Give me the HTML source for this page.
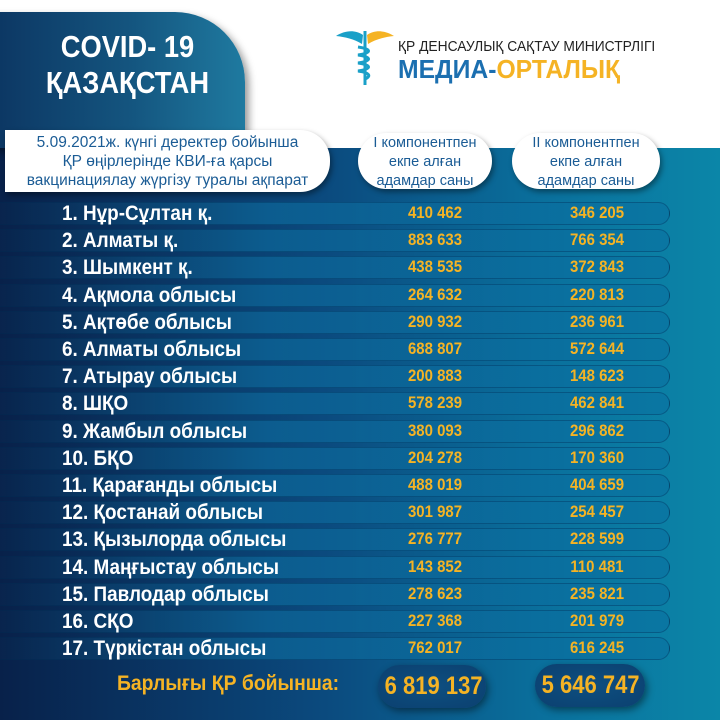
<!DOCTYPE html>
<html><head><meta charset="utf-8"><style>
*{margin:0;padding:0;box-sizing:border-box}
body{width:720px;height:720px;overflow:hidden;position:relative;font-family:"Liberation Sans","DejaVu Sans",sans-serif;background:linear-gradient(90deg,#08214a 0%,#0b4a7e 45%,#0a6f9c 75%,#0b86a8 100%)}
.top{position:absolute;left:0;top:0;width:720px;height:148px;background:#fff}
.tab{position:absolute;left:-40px;top:12px;width:285px;height:136px;border-radius:0 70px 0 0;background:linear-gradient(90deg,#0a2f5c,#14557f 60%,#1f7aa0);box-shadow:4px 4px 8px rgba(0,0,0,.4)}
.tabt{position:absolute;left:0;width:255px;text-align:center;color:#fff;font-weight:bold;font-size:31px;transform:scaleX(.88)}
.logo{position:absolute;left:300px;top:5px;width:382px;height:95px;background:#fff}
.pill{position:absolute;background:#fff;border-radius:28px;color:#1b5c95;text-align:center;font-size:14.5px;line-height:19px;box-shadow:2px 3px 6px rgba(0,0,0,.4)}
.bar{position:absolute;left:0;width:670px;height:23px;border-radius:0 12px 12px 0;background:linear-gradient(90deg,rgba(10,40,80,.5),rgba(14,110,160,.6) 40%,rgba(10,110,160,.5));border:1px solid rgba(0,40,80,.35);border-left:none}
.nm{position:absolute;left:62px;color:#fff;font-weight:bold;font-size:21px;transform-origin:left;transform:scaleX(.9);white-space:nowrap}
.v{position:absolute;width:100px;text-align:center;color:#f5b324;font-weight:bold;font-size:17px;transform:scaleX(.88);white-space:nowrap}
.tp{position:absolute;height:43px;border-radius:22px;background:radial-gradient(ellipse at center,#0e4f80,#0b4070);box-shadow:2px 3px 8px rgba(0,0,0,.45);color:#f5b324;font-weight:bold;font-size:25px;text-align:center;line-height:43px;white-space:nowrap}
.tp span{display:inline-block;transform:scaleX(.88)}
</style></head><body>
<div class="top"></div>
<div class="tab"></div>
<div class="tabt" style="top:29px">COVID- 19</div>
<div class="tabt" style="top:65px">ҚАЗАҚСТАН</div>
<div class="logo">
<svg style="position:absolute;left:36px;top:22px" width="58" height="60" viewBox="0 0 58 60">
<path d="M27 8 C18 2 8 4 0 9 C9 10 18 12 26 17Z" fill="#1aa0c8"/>
<path d="M31 8 C40 2 50 4 58 9 C49 10 40 12 32 17Z" fill="#f5b324"/>
<rect x="27.5" y="4" width="3" height="54" fill="#1aa0c8"/>
<path d="M22 20 C36 22 36 26 22 28 C36 30 36 34 22 36 C36 38 36 42 22 44 C36 46 34 50 29 52" stroke="#1aa0c8" stroke-width="3" fill="none"/>
</svg>
<div style="position:absolute;left:98px;top:33px;font-size:15px;color:#222;white-space:nowrap;transform:scaleX(.92);transform-origin:left">ҚР ДЕНСАУЛЫҚ САҚТАУ МИНИСТРЛІГІ</div>
<div style="position:absolute;left:98px;top:49px;font-size:26px;font-weight:bold;white-space:nowrap;transform:scaleX(.95);transform-origin:left"><span style="color:#1b6fb0">МЕДИА-</span><span style="color:#f5b324">ОРТАЛЫҚ</span></div>
</div>
<div class="pill" style="left:5px;top:130px;width:325px;height:62px;padding-top:3px;font-size:15.5px;border-radius:0 30px 30px 0">5.09.2021ж. күнгі деректер бойынша<br>ҚР өңірлерінде КВИ-ға қарсы<br>вакцинациялау жүргізу туралы ақпарат</div>
<div class="pill" style="left:358px;top:133px;width:134px;height:56px;padding-top:1px">І компонентпен<br>екпе алған<br>адамдар саны</div>
<div class="pill" style="left:512px;top:133px;width:148px;height:56px;padding-top:1px">ІІ компонентпен<br>екпе алған<br>адамдар саны</div>
<div id="rows"></div>
<div style="position:absolute;left:117px;top:671px;color:#f5b324;font-weight:bold;font-size:21.5px;white-space:nowrap;transform:scaleX(.9);transform-origin:left">Барлығы ҚР бойынша:</div>
<div class="tp" style="left:378px;top:665px;width:108px"><span>6 819 137</span></div>
<div class="tp" style="left:535px;top:664px;width:110px"><span>5 646 747</span></div>
<script>
var d=[["1. Нұр-Сұлтан қ.","410 462","346 205"],["2. Алматы қ.","883 633","766 354"],["3. Шымкент қ.","438 535","372 843"],["4. Ақмола облысы","264 632","220 813"],["5. Ақтөбе облысы","290 932","236 961"],["6. Алматы облысы","688 807","572 644"],["7. Атырау облысы","200 883","148 623"],["8. ШҚО","578 239","462 841"],["9. Жамбыл облысы","380 093","296 862"],["10. БҚО","204 278","170 360"],["11. Қарағанды облысы","488 019","404 659"],["12. Қостанай облысы","301 987","254 457"],["13. Қызылорда облысы","276 777","228 599"],["14. Маңғыстау облысы","143 852","110 481"],["15. Павлодар облысы","278 623","235 821"],["16. СҚО","227 368","201 979"],["17. Түркістан облысы","762 017","616 245"]];
var h="";d.forEach(function(r,i){var y=202+i*27.2;
h+='<div class="bar" style="top:'+y+'px"></div><div class="nm" style="top:'+(y)+'px">'+r[0]+'</div><div class="v" style="left:385px;top:'+(y+1)+'px">'+r[1]+'</div><div class="v" style="left:547px;top:'+(y+1)+'px">'+r[2]+'</div>';});
document.getElementById("rows").innerHTML=h;
</script>
</body></html>
